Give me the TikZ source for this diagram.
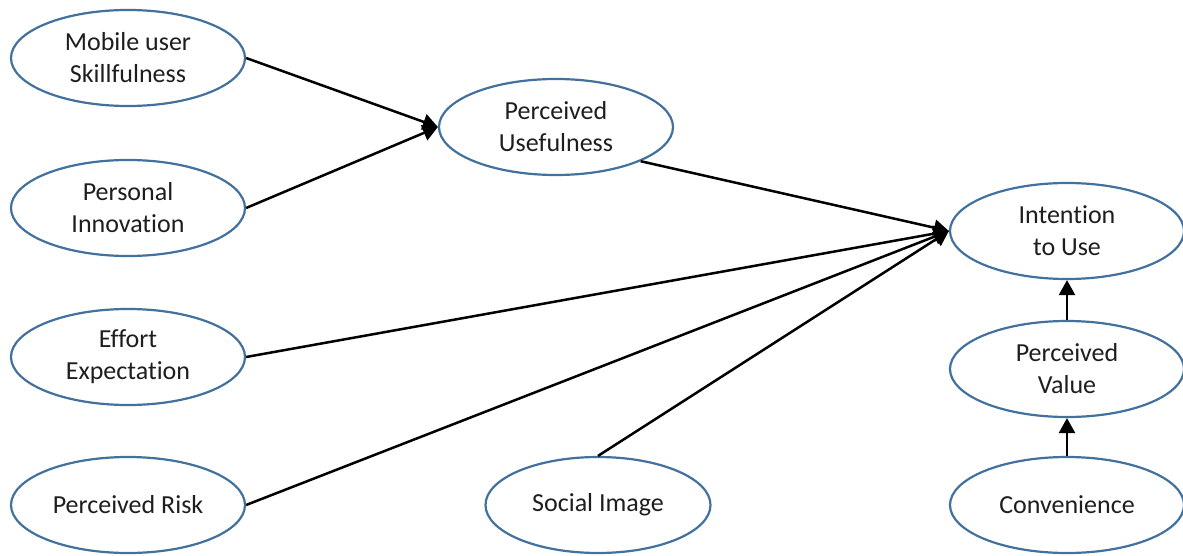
\documentclass[tikz,border=0pt]{standalone}
\usepackage{fontspec}
\setmainfont{Carlito}[Ligatures=NoCommon]
\usetikzlibrary{shapes.geometric,arrows.meta}
\definecolor{ellblue}{RGB}{65,113,156}
\definecolor{txt}{RGB}{30,30,30}
\tikzset{
  construct/.style={ellipse, draw=ellblue, line width=2.2pt, fill=white,
    minimum width=234pt, minimum height=96pt, inner sep=0pt, align=center,
    text=txt, font=\fontsize{26}{32}\selectfont},
  link/.style={line width=2.5pt, -{Triangle[length=15pt,width=16pt]}}
}
\begin{document}
\begin{tikzpicture}[x=1pt,y=-1pt]
\useasboundingbox (0,0) rectangle (1183,556);
\node[construct] (mus) at (128,58) {Mobile user\\Skillfulness};
\node[construct] (pin) at (128,208) {Personal\\Innovation};
\node[construct] (eff) at (128,357) {Effort\\Expectation};
\node[construct] (risk) at (128,505) {Perceived Risk};
\node[construct] (pu) at (556,127) {Perceived\\Usefulness};
\node[construct, minimum width=225pt] (soc) at (598,505) {Social Image};
\node[construct] (itu) at (1067,231) {Intention\\to Use};
\node[construct] (pv) at (1067,369) {Perceived\\Value};
\node[construct] (conv) at (1067,505) {Convenience};

\draw[link] (mus.east) -- (pu.west);
\draw[link] (pin.east) -- (pu.west);
\draw[link] (pu.-22) -- (itu.west);
\draw[link] (eff.east) -- (itu.west);
\draw[link] (risk.east) -- (itu.west);
\draw[link] (soc.north) -- (itu.west);
\draw[link] (conv.north) -- (pv.south);
\draw[link] (pv.north) -- (itu.south);
\end{tikzpicture}
\end{document}
